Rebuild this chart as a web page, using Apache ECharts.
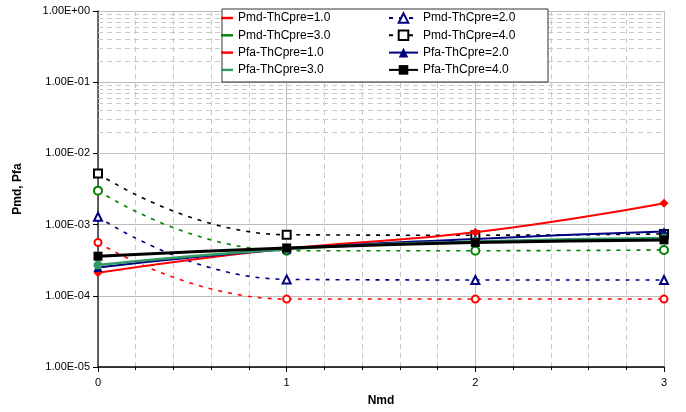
<!DOCTYPE html>
<html>
<head>
<meta charset="utf-8">
<script src="https://cdn.jsdelivr.net/npm/echarts@6/dist/echarts.min.js"></script>
<style>
  html, body { margin: 0; padding: 0; background: #fff; }
  #main { width: 686px; height: 412px; }
</style>
</head>
<body>
<div id="main"></div>
<script>
// Nmd values on the x axis
var nmd = [0, 1, 2, 3];

// Pmd (dashed) and Pfa (solid) curves
var pmd1 = [5.6e-4, 9.0e-5, 9.0e-5, 9.0e-5];
var pmd2 = [1.29e-3, 1.7e-4, 1.67e-4, 1.67e-4];
var pmd3 = [3.0e-3, 4.3e-4, 4.3e-4, 4.4e-4];
var pmd4 = [5.2e-3, 7.2e-4, 7.1e-4, 7.4e-4];
var pfa1 = [2.1e-4, 4.6e-4, 7.8e-4, 2.0e-3];
var pfa2 = [2.5e-4, 4.5e-4, 6.3e-4, 8.0e-4];
var pfa3 = [2.7e-4, 4.5e-4, 5.8e-4, 6.5e-4];
var pfa4 = [3.6e-4, 4.7e-4, 5.6e-4, 6.1e-4];

var yMin = 1e-5, yMax = 1;

function pairs(ys) {
  return nmd.map(function (x, i) { return [x, ys[i]]; });
}

// minor log gridlines 2..9 in each decade
var minorLines = [];
for (var d = -5; d < 0; d++) {
  for (var k = 2; k <= 9; k++) {
    minorLines.push({ yAxis: k * Math.pow(10, d) });
  }
}

function expLabel(v) {
  var e = Math.round(Math.log10(v));
  var m = v / Math.pow(10, e);
  return m.toFixed(2) + 'E' + (e < 0 ? '-' : '+') + String(Math.abs(e)).padStart(2, '0');
}

function dashed(name, ys, color, symbol, size) {
  return {
    name: name, type: 'line', data: pairs(ys), smooth: true,
    symbol: symbol, symbolSize: size, z: 3,
    lineStyle: { color: color, width: 1.6, type: [4, 6] },
    itemStyle: { color: color, borderColor: color, borderWidth: 1.2 }
  };
}
function solid(name, ys, color, symbol, size, width) {
  return {
    name: name, type: 'line', data: pairs(ys), smooth: true,
    symbol: symbol, symbolSize: size, z: 4,
    lineStyle: { color: color, width: width },
    itemStyle: { color: color }
  };
}

var legendFont = { fontSize: 12, color: '#000', fontFamily: 'Liberation Sans, Arial, sans-serif' };

var chart = echarts.init(document.getElementById('main'), null, { renderer: 'canvas' });

var option = {
  animation: false,
  textStyle: { fontFamily: 'Liberation Sans, Arial, sans-serif' },
  grid: { left: 98, right: 22, top: 11, bottom: 45 },
  graphic: [{
    type: 'rect', z: 3,
    shape: { x: 222, y: 9, width: 326, height: 73 },
    style: { fill: '#fff', stroke: '#333', lineWidth: 1 }
  }],
  legend: [
    {
      left: 221, top: 12, orient: 'vertical', padding: 0,
      itemWidth: 12, itemHeight: 12, itemGap: 5.3,
      icon: 'path://M0,0H10V2H0Z',
      itemStyle: { borderWidth: 0 },
      textStyle: legendFont,
      data: ['Pmd-ThCpre=1.0', 'Pmd-ThCpre=3.0', 'Pfa-ThCpre=1.0', 'Pfa-ThCpre=3.0']
    },
    {
      left: 388, top: 12, orient: 'vertical', padding: 0,
      itemWidth: 29, itemHeight: 12, itemGap: 5.3,
      textStyle: legendFont,
      data: ['Pmd-ThCpre=2.0', 'Pmd-ThCpre=4.0', 'Pfa-ThCpre=2.0', 'Pfa-ThCpre=4.0']
    }
  ],
  xAxis: {
    type: 'value', min: 0, max: 3, interval: 1,
    name: 'Nmd', nameLocation: 'middle', nameGap: 28,
    nameTextStyle: { fontSize: 12, fontWeight: 'bold', color: '#000' },
    axisLine: { lineStyle: { color: '#000', width: 1.5 } },
    axisTick: { show: true, length: 5, lineStyle: { color: '#000' } },
    minorTick: { show: true, splitNumber: 5, length: 3, lineStyle: { color: '#000' } },
    axisLabel: { fontSize: 11, color: '#000', margin: 10 },
    splitLine: { show: true, lineStyle: { color: '#bdbdbd', width: 1 } },
    minorSplitLine: { show: true, lineStyle: { color: '#c8c8c8', width: 1, type: [5, 4] } }
  },
  yAxis: {
    type: 'log', logBase: 10, min: yMin, max: yMax,
    name: 'Pmd, Pfa', nameLocation: 'middle', nameGap: 74, nameRotate: 90,
    nameTextStyle: { fontSize: 12, fontWeight: 'bold', color: '#000' },
    axisLine: { show: true, lineStyle: { color: '#333', width: 1.5 } },
    axisTick: { show: true, length: 5, lineStyle: { color: '#000' } },
    axisLabel: { fontSize: 11, color: '#000', margin: 8, formatter: expLabel },
    splitLine: { show: true, lineStyle: { color: '#bdbdbd', width: 1 } }
  },
  series: [
    {
      name: 'grid-minor', type: 'line', data: [], z: 1, silent: true,
      markLine: {
        silent: true, z: 1, symbol: ['none', 'none'], animation: false,
        label: { show: false },
        lineStyle: { color: '#c8c8c8', width: 1, type: [5, 4] },
        data: minorLines
      }
    },
    dashed('Pmd-ThCpre=1.0', pmd1, '#ff0000', 'emptyCircle', 7),
    dashed('Pmd-ThCpre=2.0', pmd2, '#000080', 'emptyTriangle', 8),
    dashed('Pmd-ThCpre=3.0', pmd3, '#008000', 'emptyCircle', 8),
    dashed('Pmd-ThCpre=4.0', pmd4, '#000000', 'emptyRect', 8),
    solid('Pfa-ThCpre=1.0', pfa1, '#ff0000', 'diamond', 9, 2),
    solid('Pfa-ThCpre=2.0', pfa2, '#000080', 'triangle', 9, 2),
    solid('Pfa-ThCpre=3.0', pfa3, '#339966', 'circle', 9, 2.5),
    solid('Pfa-ThCpre=4.0', pfa4, '#000000', 'rect', 9, 3)
  ]
};

chart.setOption(option);
</script>
</body>
</html>
